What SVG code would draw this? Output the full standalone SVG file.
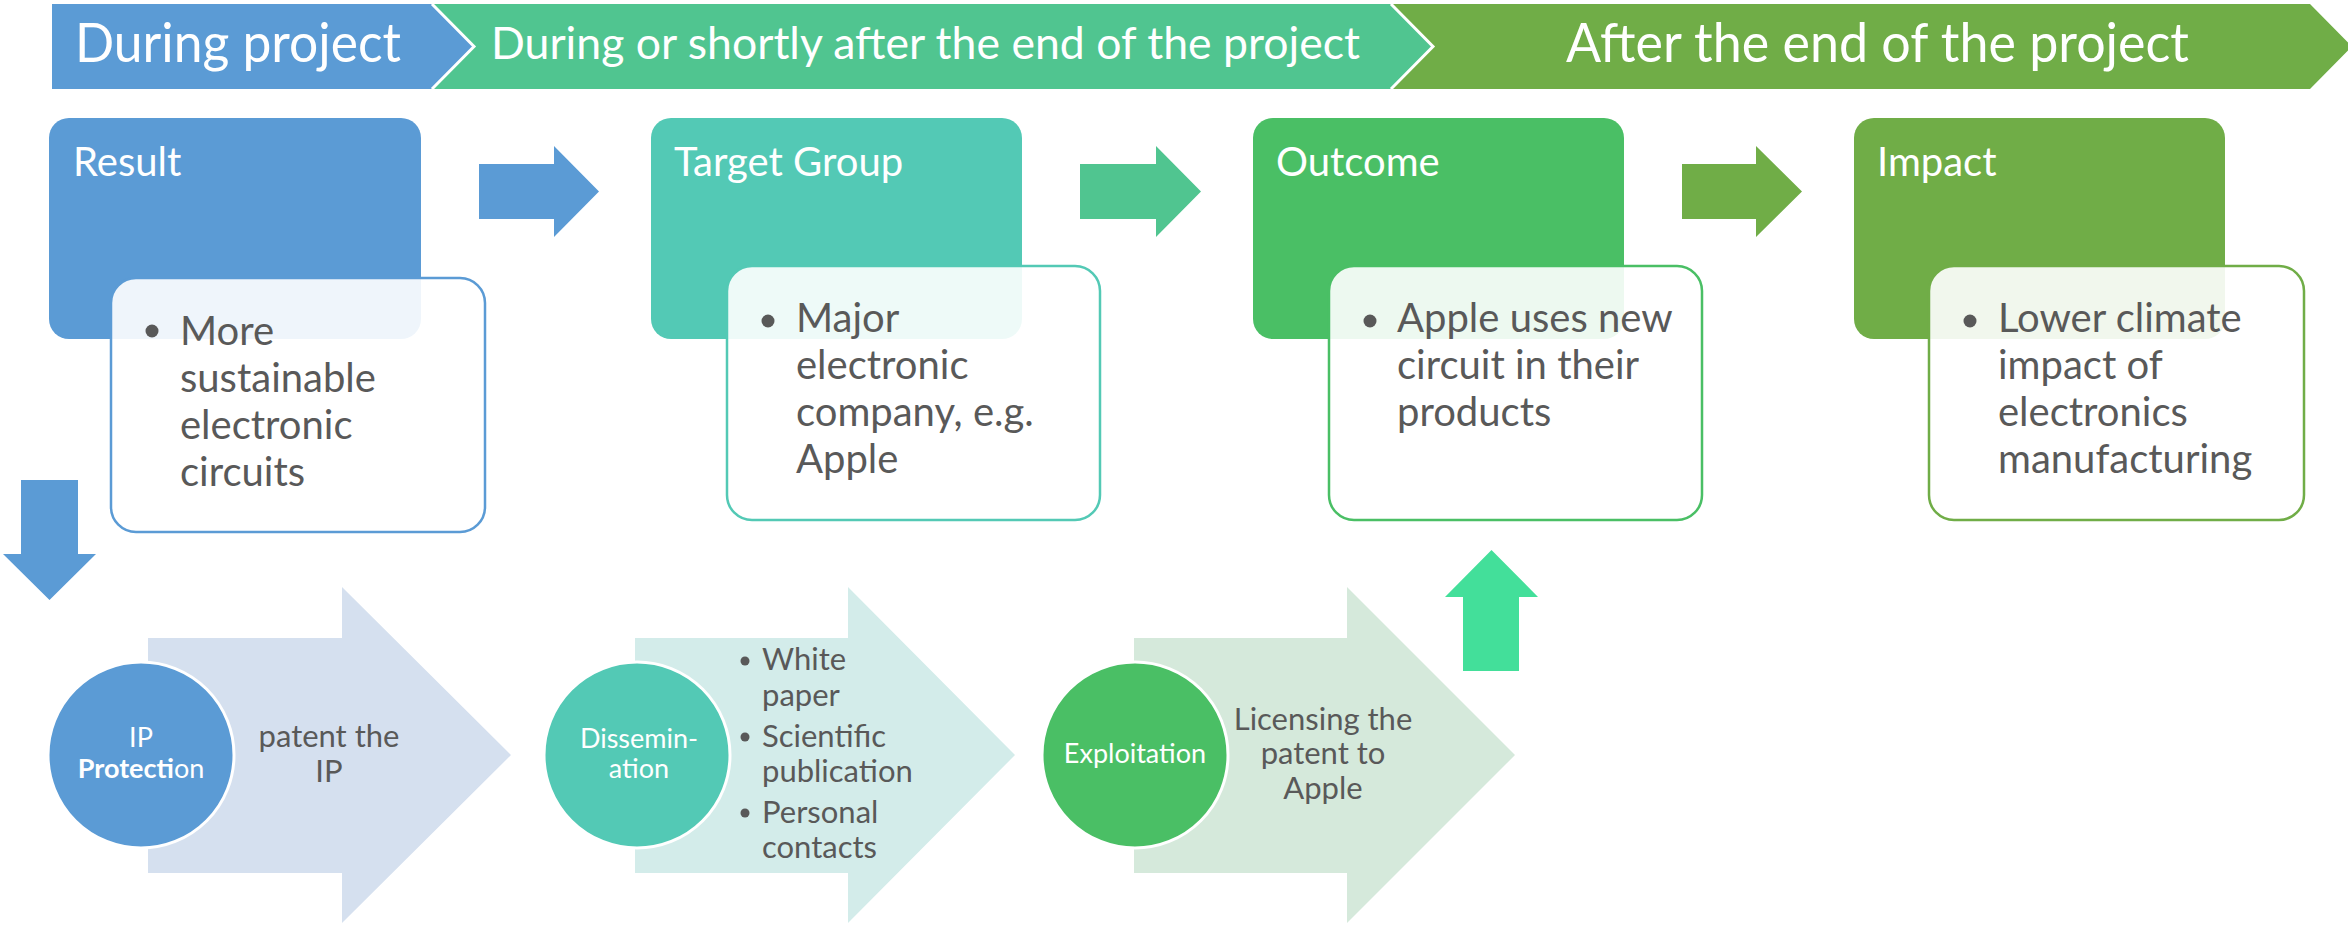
<svg xmlns="http://www.w3.org/2000/svg" width="2348" height="926" viewBox="0 0 2348 926">
<style>
text { font-family: Lato, "Liberation Sans", sans-serif; }
.hdr { fill: #ffffff; }
.ttl { fill: #ffffff; font-size: 40px; }
.body { fill: #595959; font-size: 40px; }
.small { fill: #595959; font-size: 31px; }
.circ { fill: #ffffff; font-size: 27px; text-anchor: middle; }
.card { fill: #ffffff; fill-opacity: 0.9; stroke-width: 2.5; }
.dot { fill: #595959; }
.ring { stroke: #ffffff; stroke-width: 3; }
</style>
<g id="header">
  <polygon points="52,4 432,4 474,46.5 432,89 52,89" fill="#5B9BD5"/>
  <polygon points="432,4 1391,4 1433,46.5 1391,89 432,89 474,46.5" fill="#50C590"/>
  <polygon points="1391,4 2310,4 2352,46.5 2310,89 1391,89 1433,46.5" fill="#70AD47"/>
  <polyline points="432,4 474,46.5 432,89" fill="none" stroke="#ffffff" stroke-width="3"/>
  <polyline points="1391,4 1433,46.5 1391,89" fill="none" stroke="#ffffff" stroke-width="3"/>
  <text class="hdr" x="75" y="62" font-size="54" textLength="326" lengthAdjust="spacingAndGlyphs">During project</text>
  <text class="hdr" x="491" y="59" font-size="44" textLength="869" lengthAdjust="spacingAndGlyphs">During or shortly after the end of the project</text>
  <text class="hdr" x="1566" y="62" font-size="54" textLength="623" lengthAdjust="spacingAndGlyphs">After the end of the project</text>
</g>
<g id="connectors">
  <polygon points="479,164 554,164 554,146 599,191.5 554,237 554,219 479,219" fill="#5B9BD5"/>
  <polygon points="1080,164 1156,164 1156,146 1201,191.5 1156,237 1156,219 1080,219" fill="#50C590"/>
  <polygon points="1682,164 1756,164 1756,146 1802,191.5 1756,237 1756,219 1682,219" fill="#70AD47"/>
  <polygon points="21,480 78,480 78,554 96,554 49.5,600 3,554 21,554" fill="#5B9BD5"/>
  <polygon points="1463,671 1519,671 1519,597 1538,597 1491.5,550 1445,597 1463,597" fill="#43DF9A"/>
</g>
<g id="result">
  <rect x="49" y="118" width="372" height="221" rx="20" fill="#5B9BD5"/>
  <text class="ttl" x="73" y="176">Result</text>
  <rect class="card" x="111" y="278" width="374" height="254" rx="25" stroke="#5B9BD5"/>
  <circle class="dot" cx="152" cy="331" r="6.5"/>
  <text class="body" x="180" y="345">More</text>
  <text class="body" x="180" y="392">sustainable</text>
  <text class="body" x="180" y="439">electronic</text>
  <text class="body" x="180" y="486">circuits</text>
</g>
<g id="target-group">
  <rect x="651" y="118" width="371" height="221" rx="20" fill="#53C9B5"/>
  <text class="ttl" x="674" y="176">Target Group</text>
  <rect class="card" x="727" y="266" width="373" height="254" rx="25" stroke="#53C9B5"/>
  <circle class="dot" cx="768" cy="321" r="6.5"/>
  <text class="body" x="796" y="332">Major</text>
  <text class="body" x="796" y="379">electronic</text>
  <text class="body" x="796" y="426">company, e.g.</text>
  <text class="body" x="796" y="473">Apple</text>
</g>
<g id="outcome">
  <rect x="1253" y="118" width="371" height="221" rx="20" fill="#4ABF65"/>
  <text class="ttl" x="1276" y="176">Outcome</text>
  <rect class="card" x="1329" y="266" width="373" height="254" rx="25" stroke="#4ABF65"/>
  <circle class="dot" cx="1370" cy="321" r="6.5"/>
  <text class="body" x="1397" y="332">Apple uses new</text>
  <text class="body" x="1397" y="379">circuit in their</text>
  <text class="body" x="1397" y="426">products</text>
</g>
<g id="impact">
  <rect x="1854" y="118" width="371" height="221" rx="20" fill="#70AD47"/>
  <text class="ttl" x="1877" y="176">Impact</text>
  <rect class="card" x="1929" y="266" width="375" height="254" rx="25" stroke="#70AD47"/>
  <circle class="dot" cx="1970" cy="321" r="6.5"/>
  <text class="body" x="1998" y="332">Lower climate</text>
  <text class="body" x="1998" y="379">impact of</text>
  <text class="body" x="1998" y="426">electronics</text>
  <text class="body" x="1998" y="473">manufacturing</text>
</g>
<g id="ip-protection">
  <polygon points="148,638 342,638 342,587 511,755 342,923 342,873 148,873" fill="#D5E0EF"/>
  <circle class="ring" cx="141" cy="755" r="93" fill="#5B9BD5"/>
  <text class="circ" x="141" y="747">IP</text>
  <text class="circ" x="141" y="778"><tspan font-weight="bold">Protecti</tspan>on</text>
  <text class="small" x="329" y="747" text-anchor="middle">patent the</text>
  <text class="small" x="329" y="782" text-anchor="middle">IP</text>
</g>
<g id="dissemination">
  <polygon points="635,638 848,638 848,587 1015,755 848,923 848,873 635,873" fill="#D3ECEA"/>
  <circle class="ring" cx="637" cy="755" r="93" fill="#53C9B5"/>
  <text class="circ" x="639" y="748">Dissemin-</text>
  <text class="circ" x="639" y="778">ation</text>
  <circle class="dot" cx="745" cy="661" r="4.5"/>
  <text class="small" x="762" y="670">White</text>
  <text class="small" x="762" y="706">paper</text>
  <circle class="dot" cx="745" cy="737" r="4.5"/>
  <text class="small" x="762" y="747">Scientific</text>
  <text class="small" x="762" y="782">publication</text>
  <circle class="dot" cx="745" cy="813" r="4.5"/>
  <text class="small" x="762" y="823">Personal</text>
  <text class="small" x="762" y="858">contacts</text>
</g>
<g id="exploitation">
  <polygon points="1134,638 1347,638 1347,587 1515,755 1347,923 1347,873 1134,873" fill="#D5E9DB"/>
  <circle class="ring" cx="1135" cy="755" r="93" fill="#4ABF65"/>
  <text class="circ" x="1135" y="763" font-size="26">Exploitation</text>
  <text class="small" x="1323" y="730" text-anchor="middle">Licensing the</text>
  <text class="small" x="1323" y="764" text-anchor="middle">patent to</text>
  <text class="small" x="1323" y="799" text-anchor="middle">Apple</text>
</g>
</svg>
